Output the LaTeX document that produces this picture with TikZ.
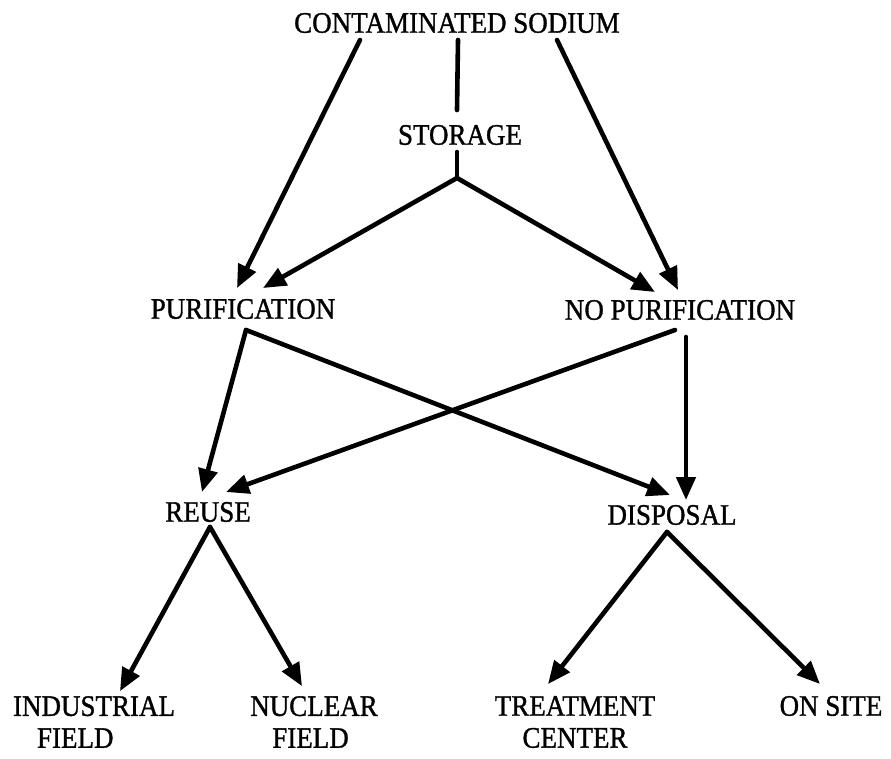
\documentclass[tikz,border=0pt]{standalone}
\usepackage{fontspec}
\setmainfont{Liberation Serif}[FakeBold=1.2]
\usetikzlibrary{arrows.meta}
\begin{document}
\begin{tikzpicture}[x=1pt, y=-1pt,
  lbl/.style={inner sep=0pt, outer sep=0pt, yscale=1.1,
    font=\fontsize{27}{29}\selectfont},
  link/.style={line width=4.6pt, line cap=round, line join=round},
  flow/.style={link, -{Triangle[length=23pt, width=19pt]}}]
\useasboundingbox (0,0) rectangle (891,758);

% labels
\node[lbl] (cs)  at (457,23)  {CONTAMINATED SODIUM};
\node[lbl] (st)  at (460,135) {STORAGE};
\node[lbl] (pu)  at (243,309) {PURIFICATION};
\node[lbl] (np)  at (680,310) {NO PURIFICATION};
\node[lbl] (re)  at (208,512) {REUSE};
\node[lbl] (di)  at (672,515) {DISPOSAL};
\node[lbl, align=left]   (ind) at (94,722)  {INDUSTRIAL\\\hspace*{24pt}FIELD};
\node[lbl, align=left]   (nuc) at (314,722) {NUCLEAR\\\hspace*{22pt}FIELD};
\node[lbl, align=center] (tc)  at (575,722) {TREATMENT\\CENTER};
\node[lbl] (os)  at (831,706) {ON SITE};

% branch points
\coordinate (stfork) at ([xshift=-3pt, yshift=-33pt]st.south);

% from contaminated sodium
\draw[flow] ([xshift=-97pt, yshift=-7pt]cs.south) -- ([xshift=-6pt, yshift=11pt]pu.north);
\draw[link] ([xshift=1pt, yshift=-7pt]cs.south) -- ([xshift=-3pt, yshift=15pt]st.north);
\draw[flow] ([xshift=100pt, yshift=-7pt]cs.south) -- ([xshift=-2pt, yshift=10pt]np.north);

% from storage
\draw[link] ([xshift=-3pt, yshift=-7pt]st.south) -- (stfork);
\draw[flow] (stfork) -- ([xshift=20pt, yshift=11pt]pu.north);
\draw[flow] (stfork) -- ([xshift=-25pt, yshift=8pt]np.north);

% from purification / no purification
\draw[flow] ([xshift=3pt, yshift=-11pt]pu.south) -- ([xshift=-6pt, yshift=10pt]re.north);
\draw[flow] ([xshift=3pt, yshift=-11pt]pu.south) -- ([xshift=-2pt, yshift=10pt]di.north);
\draw[flow] ([xshift=-5pt, yshift=-10pt]np.south) -- ([xshift=18pt, yshift=10pt]re.north);
\draw[flow] ([xshift=6pt, yshift=-17pt]np.south) -- ([xshift=14pt, yshift=5pt]di.north);

% from reuse
\draw[flow] ([xshift=2pt, yshift=-5pt]re.south) -- ([xshift=26pt, yshift=5pt]ind.north);
\draw[flow] ([xshift=2pt, yshift=-5pt]re.south) -- ([xshift=-12pt, yshift=10pt]nuc.north);

% from disposal
\draw[flow] ([xshift=-5pt, yshift=-7pt]di.south) -- ([xshift=-27pt, yshift=12pt]tc.north);
\draw[flow] ([xshift=-5pt, yshift=-7pt]di.south) -- ([xshift=-11pt, yshift=12pt]os.north);
\end{tikzpicture}
\end{document}
